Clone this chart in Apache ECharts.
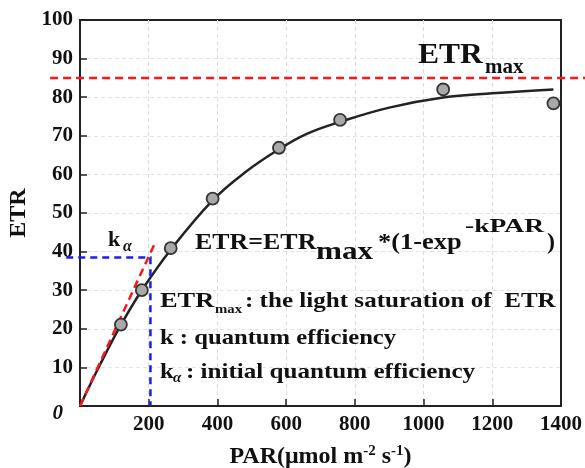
<!DOCTYPE html>
<html>
<head>
<meta charset="utf-8">
<script src="https://cdn.jsdelivr.net/npm/echarts@6/dist/echarts.min.js"></script>
<style>html,body{margin:0;padding:0;background:#fff;}#c{width:585px;height:468px;}</style>
</head>
<body>
<div id="c"></div>
<script>
// Observed points
const parObs = [119, 180, 264, 386, 579, 757, 1057, 1378];
const etrObs = [21.1, 30.0, 40.9, 53.7, 66.9, 74.1, 82.0, 78.4];
// Fitted curve
const parFit = [0, 60, 119, 180, 264, 386, 480, 579, 660, 757, 900, 1057, 1200, 1378];
const etrFit = [0, 11, 21, 30, 40.5, 53.3, 60.5, 66.5, 70.5, 73.6, 77.3, 79.9, 81.0, 82.0];
// ETRmax reference line
const etrMax = 85;
const etrMaxPar = [-87, 1470];
// Initial slope line (k_alpha)
const slopePar = [0, 217];
const slopeEtr = [0, 42];
// Blue guide: horizontal then vertical
const guidePar = [-40, 205, 205];
const guideEtr = [38.5, 38.5, 0];
// Axis ticks
const xTicks = [0, 200, 400, 600, 800, 1000, 1200, 1400];
const yTicks = [0, 10, 20, 30, 40, 50, 60, 70, 80, 90, 100];

const SERIF = '"Liberation Serif","Times New Roman",serif';
const zip = (a, b) => a.map((v, i) => [v, b[i]]);

const chart = echarts.init(document.getElementById('c'));

function txt(text, x, y, size, opts) {
  opts = opts || {};
  return {
    type: 'text', x: x, y: y, scaleX: opts.sx || 1, z: 100,
    style: {
      text: text,
      font: (opts.italic ? 'italic ' : '') + 'bold ' + size + 'px ' + SERIF,
      fill: '#111', align: 'left', verticalAlign: 'middle'
    }
  };
}

const texts = [
  // ETRmax label, top right
  txt('ETR', 418, 55.5, 30, { sx: 1.05 }),
  txt('max', 485, 68, 21),
  // k_alpha label
  txt('k', 108, 240.5, 22),
  txt('α', 123, 247, 16, { italic: true }),
  // Formula
  txt('ETR=ETR', 195, 242.5, 24, { sx: 1.08 }),
  txt('max', 316, 252, 26, { sx: 1.2 }),
  txt('*(1-exp', 378, 242.5, 24, { sx: 1.1 }),
  txt('-kPAR', 465, 227, 19, { sx: 1.45 }),
  txt(')', 547, 243, 24),
  // Definitions
  txt('ETR', 160, 301, 22, { sx: 1.2 }),
  txt('max', 215, 310, 13, { sx: 1.14 }),
  txt(': the light saturation of  ETR', 245, 301, 22, { sx: 1.14 }),
  txt('k : quantum efficiency', 160, 338, 22, { sx: 1.12 }),
  txt('k', 160, 372, 22, { sx: 1.12 }),
  txt('α', 173, 378, 15, { italic: true }),
  txt(': initial quantum efficiency', 186, 372, 22, { sx: 1.14 })
];

chart.setOption({
  animation: false,
  backgroundColor: '#fff',
  grid: {
    left: 80, right: 24, top: 20, bottom: 62, containLabel: false, outerBoundsMode: 'none',
    show: true, borderColor: '#222', borderWidth: 2, backgroundColor: 'transparent'
  },
  xAxis: {
    type: 'value', min: xTicks[0], max: xTicks[xTicks.length - 1], interval: 200,
    axisLine: { lineStyle: { color: '#222', width: 2 } },
    axisTick: { inside: true, length: 7, lineStyle: { color: '#222', width: 1.5 } },
    splitLine: { show: true, showMinLine: false, showMaxLine: false, lineStyle: { color: '#dcdcdc', type: [4, 3], width: 1 } },
    axisLabel: {
      margin: 8, color: '#111', fontFamily: SERIF, fontWeight: 'bold', fontSize: 21,
      formatter: v => (v === 0 ? '' : String(v))
    },
    name: 'PAR(μmol m{sup|-2} s{sup|-1})',
    nameLocation: 'middle', nameGap: 38,
    nameTextStyle: {
      color: '#111', fontFamily: SERIF, fontWeight: 'bold', fontSize: 24,
      rich: { sup: { fontSize: 15, fontFamily: SERIF, fontWeight: 'bold', color: '#111', verticalAlign: 'top', padding: [0, 0, 10, 0] } }
    }
  },
  yAxis: {
    type: 'value', min: yTicks[0], max: yTicks[yTicks.length - 1], interval: 10,
    axisLine: { lineStyle: { color: '#222', width: 2 } },
    axisTick: { inside: true, length: 7, lineStyle: { color: '#222', width: 1.5 } },
    splitLine: { show: true, showMinLine: false, showMaxLine: false, lineStyle: { color: '#e4e4e4', type: [4, 3], width: 1 } },
    axisLabel: {
      margin: 7, color: '#111', fontFamily: SERIF, fontWeight: 'bold', fontSize: 21,
      formatter: v => (v === 0 ? '{z|0}' : String(v)),
      rich: { z: { fontStyle: 'italic', fontWeight: 'bold', fontFamily: SERIF, fontSize: 21, color: '#111', padding: [16, 10, 0, 0] } }
    },
    name: 'ETR', nameLocation: 'middle', nameGap: 46,
    nameTextStyle: { color: '#111', fontFamily: SERIF, fontWeight: 'bold', fontSize: 24 }
  },
  series: [
    {
      type: 'line', data: zip(parFit, etrFit), smooth: 0.4, showSymbol: false, symbol: 'none',
      lineStyle: { color: '#222', width: 2.5 }, z: 3, silent: true
    },
    {
      type: 'scatter', data: zip(parObs, etrObs), symbol: 'circle', symbolSize: 12,
      itemStyle: { color: '#a9a9a9', borderColor: '#333', borderWidth: 1.8, opacity: 1 }, z: 6
    }
  ],
  graphic: texts
});

// Dashed guide lines, placed through the chart's own scales (they reach past the plot edges)
function dashed(id, pars, etrs, color, dash) {
  const pts = pars.map((p, i) => chart.convertToPixel({ gridIndex: 0 }, [p, etrs[i]]));
  return {
    id: id, type: 'polyline', z: 5, silent: true,
    shape: { points: pts },
    style: { stroke: color, lineWidth: 2.5, lineDash: dash, fill: null }
  };
}
chart.setOption({
  graphic: texts.concat([
    dashed('etrmax', etrMaxPar, [etrMax, etrMax], '#ff1515', [8, 5]),
    dashed('slope', slopePar, slopeEtr, '#ff1515', [8, 5]),
    dashed('guide', guidePar, guideEtr, '#1c1ce6', [7, 5])
  ])
});
</script>
</body>
</html>
